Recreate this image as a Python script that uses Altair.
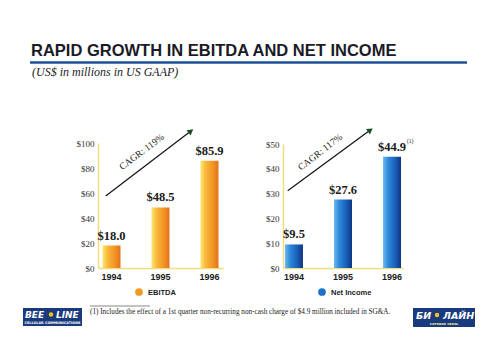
import altair as alt
import pandas as pd

# ---------------- data ----------------
years = ["1994", "1995", "1996"]
ebitda = [18.0, 48.5, 85.9]
net_income = [9.5, 27.6, 44.9]
ebitda_labels = ["$18.0", "$48.5", "$85.9"]
net_labels = ["$9.5", "$27.6", "$44.9"]
net_notes = ["", "", "(1)"]
ebitda_ticks = [0, 20, 40, 60, 80, 100]
net_ticks = [0, 10, 20, 30, 40, 50]
series = ["EBITDA", "Net Income"]
cagr = ["CAGR: 119%", "CAGR: 117%"]
title_text = "RAPID GROWTH IN EBITDA AND NET INCOME"
subtitle_text = "(US$ in millions in US GAAP)"
footnote_text = ("(1)  Includes the effect of a 1st quarter non-recurring non-cash "
                 "charge of $4.9 million included in SG&A.")

W, H = 484, 347
SANS = "Liberation Sans, Arial, sans-serif"
SERIF = "Liberation Serif, Times New Roman, serif"

orange_grad = alt.LinearGradient(
    gradient="linear", x1=0, x2=1, y1=0, y2=0,
    stops=[alt.GradientStop(color="#fde76e", offset=0),
           alt.GradientStop(color="#f8b63a", offset=0.3),
           alt.GradientStop(color="#f29324", offset=0.7),
           alt.GradientStop(color="#e2711b", offset=1)])
blue_grad = alt.LinearGradient(
    gradient="linear", x1=0, x2=1, y1=0, y2=0,
    stops=[alt.GradientStop(color="#6cb8ee", offset=0),
           alt.GradientStop(color="#2b88d8", offset=0.3),
           alt.GradientStop(color="#1a5db6", offset=0.7),
           alt.GradientStop(color="#0e3480", offset=1)])


def panel(values, labels, notes, ticks, xr, yr, po, grad):
    df = pd.DataFrame({"year": years, "value": values, "label": labels, "note": notes})
    base = alt.Chart(df)
    x = alt.X("year:N", title=None, sort=years,
              scale=alt.Scale(domain=years, range=xr, paddingInner=0.633, paddingOuter=po),
              axis=alt.Axis(orient="bottom", offset=-(H - yr[0]), ticks=False, grid=False,
                            domainColor="#f4dc7c", domainWidth=1.5, labelAngle=0,
                            labelFont=SANS, labelFontWeight="bold", labelFontSize=9,
                            labelColor="#1c1c1c", labelPadding=4))
    y = alt.Y("value:Q", title=None,
              scale=alt.Scale(domain=[ticks[0], ticks[-1]], range=list(yr), nice=False),
              axis=alt.Axis(orient="left", offset=-xr[0], values=ticks, ticks=False, grid=False,
                            domainColor="#f4dc7c", domainWidth=1.5,
                            labelExpr="'$' + datum.value", labelFont=SERIF, labelFontSize=9,
                            labelColor="#333333", labelPadding=4))
    bars = base.mark_bar(color=grad).encode(x=x, y=y)
    text = base.mark_text(baseline="bottom", dy=-3, font=SERIF, fontSize=12.5,
                          fontWeight="bold", color="#1a1a1a").encode(
        x="year:N", y="value:Q", text="label:N")
    note = base.mark_text(align="left", baseline="bottom", dx=15, dy=-13, font=SERIF,
                          fontSize=5.5, color="#1a1a1a").encode(x="year:N", y="value:Q",
                                                                text="note:N")
    return alt.layer(bars, text, note)


left = panel(ebitda, ebitda_labels, ["", "", ""], ebitda_ticks, [90, 215], (260, 135), 0.092, orange_grad)
right = panel(net_income, net_labels, net_notes, net_ticks, [275, 395], (260, 136), 0.04, blue_grad)

one = alt.Chart(pd.DataFrame({"k": [0]}))


def txt(s, x, y, **kw):
    return one.mark_text(**kw).encode(x=alt.value(x), y=alt.value(y), text=alt.value(s))


def rule(x, x2, y, y2, **kw):
    return one.mark_rule(**kw).encode(x=alt.value(x), x2=alt.value(x2), y=alt.value(y), y2=alt.value(y2))


def rect(x, x2, y, y2, **kw):
    return one.mark_rect(**kw).encode(x=alt.value(x), x2=alt.value(x2), y=alt.value(y), y2=alt.value(y2))


def dot(x, y, **kw):
    return one.mark_point(**kw).encode(x=alt.value(x), y=alt.value(y))


deco = [
    txt(title_text, 23, 48, align="left", baseline="alphabetic", font=SANS,
        fontWeight="bold", fontSize=16.5, color="#1b1b28"),
    rule(22, 459, 54.5, 54.5, color="#1e4f96", strokeWidth=2.5),
    txt(subtitle_text, 24, 68, align="left", baseline="alphabetic", font=SERIF,
        fontStyle="italic", fontSize=12, color="#222222"),
    # CAGR arrows
    rule(97.7, 182.9, 188, 123.1, color="#111111", strokeWidth=1.2),
    dot(182.9, 123.1, shape="triangle-up", angle=52.7, filled=True, size=45,
        color="#1d4d2a", opacity=1),
    txt(cagr[0], 136.7, 147.8, angle=323, align="center", baseline="bottom", font=SERIF,
        fontSize=9.5, color="#222222"),
    rule(279.7, 362.3, 182.7, 122.1, color="#111111", strokeWidth=1.2),
    dot(362.3, 122.1, shape="triangle-up", angle=53.7, filled=True, size=45,
        color="#1d4d2a", opacity=1),
    txt(cagr[1], 315.3, 148, angle=322, align="center", baseline="bottom", font=SERIF,
        fontSize=9.5, color="#222222"),
    # legends
    dot(131, 284, shape="circle", filled=True, size=60, color="#f39a25", opacity=1),
    txt(series[0], 140, 284.5, align="left", baseline="middle", font=SANS,
        fontWeight="bold", fontSize=7.5, color="#1c1c1c"),
    dot(314, 284, shape="circle", filled=True, size=60, color="#1b74c8", opacity=1),
    txt(series[1], 323, 284.5, align="left", baseline="middle", font=SANS,
        fontWeight="bold", fontSize=7.5, color="#1c1c1c"),
    # footnote
    rule(82, 142, 298, 298, color="#555555", strokeWidth=0.7),
    txt(footnote_text, 82, 306, align="left", baseline="alphabetic", font=SERIF,
        fontSize=7.2, color="#222222"),
    # logos
    rect(15, 74, 300, 318, color="#1a3a7e"),
    txt("BEE", 17, 310, align="left", baseline="alphabetic", font="DejaVu Sans",
        fontWeight="bold", fontStyle="italic", fontSize=9, color="white"),
    dot(43, 306.5, shape="circle", filled=True, size=20, color="#f2c21a", opacity=1),
    txt("LINE", 48, 310, align="left", baseline="alphabetic", font="DejaVu Sans",
        fontWeight="bold", fontStyle="italic", fontSize=9, color="white"),
    txt("CELLULAR COMMUNICATIONS", 44.5, 315.5, align="center", baseline="alphabetic",
        font="DejaVu Sans", fontWeight="bold", fontSize=3.4, color="white"),
    rect(405, 467, 300, 319, color="#1a3a7e"),
    txt("БИ", 408, 311, align="left", baseline="alphabetic", font="DejaVu Sans",
        fontWeight="bold", fontStyle="italic", fontSize=9.5, color="white"),
    dot(429, 307, shape="circle", filled=True, size=20, color="#f2c21a", opacity=1),
    txt("ЛАЙН", 435, 311, align="left", baseline="alphabetic", font="DejaVu Sans",
        fontWeight="bold", fontStyle="italic", fontSize=9.5, color="white"),
    txt("сотовая связь", 436, 316.5, align="center", baseline="alphabetic",
        font="DejaVu Sans", fontWeight="bold", fontSize=3.6, color="#f2e6a0"),
]

chart = alt.layer(left, right, *deco).resolve_scale(
    x="independent", y="independent"
).properties(
    width=W, height=H, padding=0, autosize=alt.AutoSizeParams(type="none"),
    background="white"
).configure_view(stroke=None)

chart.save("out.html", embed_options={"renderer": "svg", "actions": False})
